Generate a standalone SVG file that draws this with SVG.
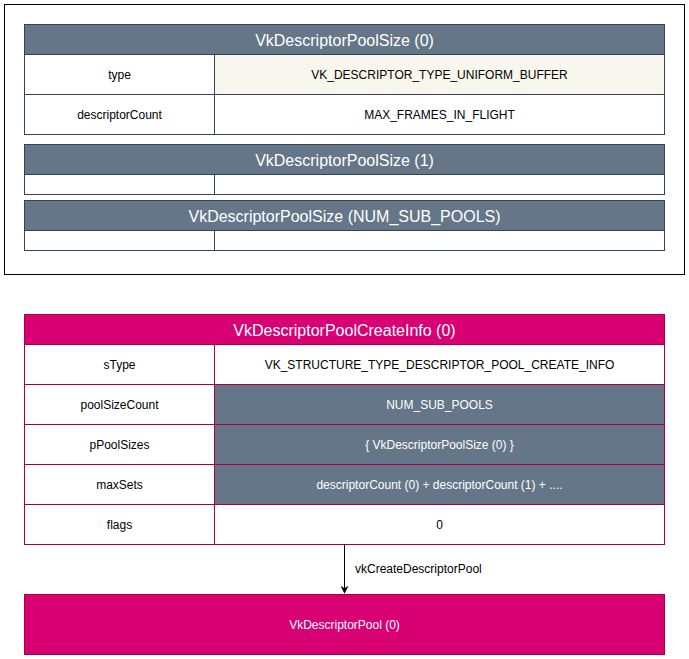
<svg xmlns="http://www.w3.org/2000/svg" width="689" height="659" viewBox="0 0 689 659">
  <style>
    text { font-family: "Liberation Sans", Arial, sans-serif; text-anchor: middle; dominant-baseline: central; }
    .hdr { font-size: 16px; fill: #ffffff; }
    .cell { font-size: 12px; fill: #000000; }
    .cellw { font-size: 12px; fill: #ffffff; }
    .slateH { fill: #647687; stroke: #314354; stroke-width: 1; }
    .slateC { fill: #ffffff; stroke: #314354; stroke-width: 1; }
    .cream { fill: #f9f7ed; stroke: #314354; stroke-width: 1; }
    .pinkH { fill: #d80073; stroke: #a50040; stroke-width: 1; }
    .pinkC { fill: #ffffff; stroke: #a50040; stroke-width: 1; }
    .pinkG { fill: #647687; stroke: #a50040; stroke-width: 1; }
    .frame { fill: #ffffff; stroke: #000000; stroke-width: 1; }
    .edge { fill: none; stroke: #000000; stroke-width: 1; }
  </style>
  <defs>
    <marker id="arrow" viewBox="0 0 10 10" refX="9" refY="5" markerWidth="8" markerHeight="8" orient="auto" markerUnits="userSpaceOnUse">
      <path d="M0,0 L10,5 L0,10 L3,5 Z" fill="#000000"/>
    </marker>
  </defs>
  <rect width="689" height="659" fill="#ffffff"/>

  <!-- container holding the pool size structs -->
  <g id="poolSizes">
    <rect class="frame" x="4.5" y="4.5" width="680" height="270"/>
  </g>

  <g id="poolSize0">
    <rect class="slateH" x="24.5" y="24.5" width="640" height="30"/>
    <text class="hdr" x="344.5" y="40">VkDescriptorPoolSize (0)</text>
    <rect class="slateC" x="24.5" y="54.5" width="190" height="40"/>
    <rect class="cream" x="214.5" y="54.5" width="450" height="40"/>
    <text class="cell" x="119.5" y="74.5">type</text>
    <text class="cell" x="439.5" y="74.5">VK_DESCRIPTOR_TYPE_UNIFORM_BUFFER</text>
    <rect class="slateC" x="24.5" y="94.5" width="190" height="40"/>
    <rect class="slateC" x="214.5" y="94.5" width="450" height="40"/>
    <text class="cell" x="119.5" y="114.5">descriptorCount</text>
    <text class="cell" x="439.5" y="114.5">MAX_FRAMES_IN_FLIGHT</text>
  </g>

  <g id="poolSize1">
    <rect class="slateH" x="24.5" y="144.5" width="640" height="30"/>
    <text class="hdr" x="344.5" y="160">VkDescriptorPoolSize (1)</text>
    <rect class="slateC" x="24.5" y="174.5" width="190" height="20"/>
    <rect class="slateC" x="214.5" y="174.5" width="450" height="20"/>
  </g>

  <g id="poolSizeN">
    <rect class="slateH" x="24.5" y="200.5" width="640" height="30"/>
    <text class="hdr" x="344.5" y="216">VkDescriptorPoolSize (NUM_SUB_POOLS)</text>
    <rect class="slateC" x="24.5" y="230.5" width="190" height="20"/>
    <rect class="slateC" x="214.5" y="230.5" width="450" height="20"/>
  </g>

  <g id="createInfo">
    <rect class="pinkH" x="24.5" y="314.5" width="640" height="30"/>
    <text class="hdr" x="344.5" y="330">VkDescriptorPoolCreateInfo (0)</text>

    <rect class="pinkC" x="24.5" y="344.5" width="190" height="40"/>
    <rect class="pinkC" x="214.5" y="344.5" width="450" height="40"/>
    <text class="cell" x="119.5" y="364.5">sType</text>
    <text class="cell" x="439.5" y="364.5">VK_STRUCTURE_TYPE_DESCRIPTOR_POOL_CREATE_INFO</text>

    <rect class="pinkC" x="24.5" y="384.5" width="190" height="40"/>
    <rect class="pinkG" x="214.5" y="384.5" width="450" height="40"/>
    <text class="cell" x="119.5" y="404.5">poolSizeCount</text>
    <text class="cellw" x="439.5" y="404.5">NUM_SUB_POOLS</text>

    <rect class="pinkC" x="24.5" y="424.5" width="190" height="40"/>
    <rect class="pinkG" x="214.5" y="424.5" width="450" height="40"/>
    <text class="cell" x="119.5" y="444.5">pPoolSizes</text>
    <text class="cellw" x="439.5" y="444.5">{ VkDescriptorPoolSize (0) }</text>

    <rect class="pinkC" x="24.5" y="464.5" width="190" height="40"/>
    <rect class="pinkG" x="214.5" y="464.5" width="450" height="40"/>
    <text class="cell" x="119.5" y="484.5">maxSets</text>
    <text class="cellw" x="439.5" y="484.5">descriptorCount (0) + descriptorCount (1) + ....</text>

    <rect class="pinkC" x="24.5" y="504.5" width="190" height="40"/>
    <rect class="pinkC" x="214.5" y="504.5" width="450" height="40"/>
    <text class="cell" x="119.5" y="524.5">flags</text>
    <text class="cell" x="439.5" y="524.5">0</text>
  </g>

  <g id="descriptorPool">
    <rect class="pinkH" x="24.5" y="594.5" width="640" height="60"/>
    <text class="cellw" x="344.5" y="624.5">VkDescriptorPool (0)</text>
  </g>

  <g id="connectors">
    <path class="edge" d="M344.5,545 L344.5,593" marker-end="url(#arrow)"/>
    <text class="cell" x="355" y="569" style="text-anchor:start">vkCreateDescriptorPool</text>
  </g>
</svg>
